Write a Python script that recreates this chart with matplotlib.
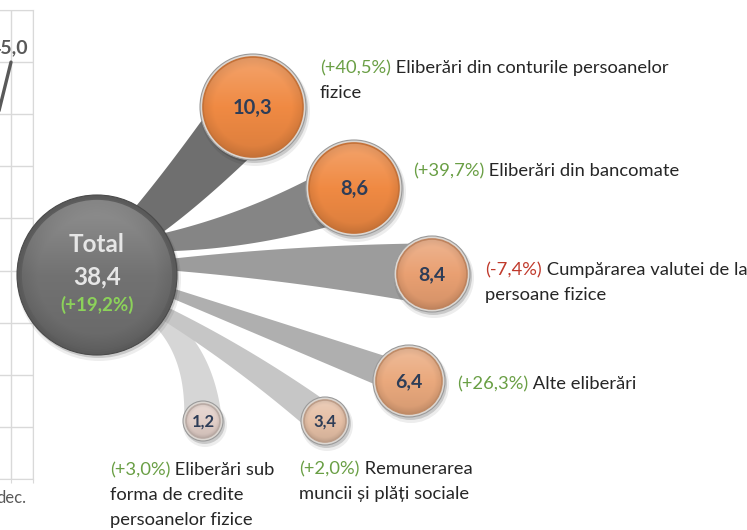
import numpy as np
import matplotlib
matplotlib.use('Agg')
import matplotlib.pyplot as plt
from matplotlib.patches import Circle, Polygon
from matplotlib.colors import to_rgb

plt.rcParams['font.family'] = ['Lato', 'DejaVu Sans']

# ---------------- data ----------------
total_value = 38.4
total_change = 19.2
categories = [
    "Eliberări din conturile persoanelor\nfizice",
    "Eliberări din bancomate",
    "Cumpărarea valutei de la\npersoane fizice",
    "Alte eliberări",
    "Remunerarea\nmuncii și plăți sociale",
    "Eliberări sub\nforma de credite\npersoanelor fizice",
]
values = [10.3, 8.6, 8.4, 6.4, 3.4, 1.2]
changes = [40.5, 39.7, -7.4, 26.3, 2.0, 3.0]

trend_months = ['nov.', 'dec.']
trend_values = [27.9, 45.0]

# ---------------- layout (pixels) ----------------
W, H = 747, 530
total_xy = (97, 275)
total_r = 80
bubble_xy = [(253, 107), (354, 188), (432, 274), (409, 381), (325, 421), (203, 421)]
bubble_r = [53, 48, 38, 36, 24, 20]
bubble_col = ['#F08A43', '#F08A43', '#E9A072', '#EAA97D', '#E6C0A6', '#E2CFC8']
bubble_fs = [14.5, 14.5, 14, 14, 12, 12]
ray_p0 = [(120, 245), (140, 245), (150, 265), (150, 285), (140, 300), (140, 305)]
ray_p1 = [(175, 200), (250, 235), (290, 262), (280, 333), (235, 350), (200, 338)]
ray_w0 = [27, 13, 7.6, 7.4, 10.6, 13]
ray_w1 = [68, 59, 61.6, 33, 33.6, 38]
ray_col = ['#6F6F6F', '#858585', '#9C9C9C', '#AFAFAF', '#C6C6C6', '#D6D6D6']
label_xy = [(320, 68), (413, 171), (485, 270), (457, 384), (299, 469), (110, 470)]
line_gap = 25
label_fs = 13.2

GREEN = '#6A9F45'
RED = '#C0392B'
TXT = '#262626'
NUM = '#2E3D57'


def fmt(v):
    return f"{v:.1f}".replace('.', ',')


def fmt_pct(c):
    return f"({c:+.1f}%)".replace('.', ',')


fig = plt.figure(figsize=(W / 100, H / 100), dpi=100)
fig.patch.set_facecolor('white')

# ---------------- left (cropped) line chart ----------------
ax2 = fig.add_axes([-55 / W, 51 / H, 88 / W, 469 / H], zorder=1)
xpos = np.arange(len(trend_months))
ax2.plot(xpos, trend_values, color='#595959', lw=2.4, solid_capstyle='round', zorder=3)
ax2.set_xlim(-0.5, 1.5)
ax2.set_ylim(5, 50)
ax2.set_yticks(np.arange(5, 51, 5))
ax2.set_yticklabels([])
ax2.tick_params(axis='y', length=0)
ax2.set_xticks([0, 1, 1.5])
ax2.set_xticklabels(trend_months + [''])
ax2.tick_params(axis='x', length=3, color='#D9D9D9', labelsize=12,
                labelcolor='#595959', pad=5)
ax2.grid(True, color='#D9D9D9', lw=1)
for s in ax2.spines.values():
    s.set_color('#D9D9D9')
ax2.spines['left'].set_visible(False)
ax2.annotate(fmt(trend_values[-1]), xy=(1, trend_values[-1]), xytext=(12.5, 10.5),
             textcoords='offset points', ha='right', va='center', fontweight='bold',
             fontsize=14, color='#595959', annotation_clip=False)

# ---------------- infographic ----------------
ax = fig.add_axes([0, 0, 1, 1], zorder=2)
ax.patch.set_alpha(0)
ax.axis('off')


def ray_poly(p0, p1, p2, w0, w1, n=80):
    t = np.linspace(0, 1, n)[:, None]
    P0, P1, P2 = (np.array(p, float) for p in (p0, p1, p2))
    B = (1 - t) ** 2 * P0 + 2 * (1 - t) * t * P1 + t ** 2 * P2
    D = 2 * (1 - t) * (P1 - P0) + 2 * t * (P2 - P1)
    D = D / np.linalg.norm(D, axis=1)[:, None]
    N = np.column_stack([-D[:, 1], D[:, 0]])
    w = (w0 + (w1 - w0) * t) / 2
    return np.vstack([B + N * w, (B - N * w)[::-1]])


def shaded_circle(cx, cy, r, base, z, light=0.22, dark=0.18):
    n = 240
    yy, xx = np.mgrid[-1:1:n * 1j, -1:1:n * 1j]
    rr = np.sqrt(xx ** 2 + yy ** 2)
    b = np.array(to_rgb(base))
    img = np.ones((n, n, 3)) * b
    f = -yy
    lighten = np.clip(f, 0, 1) * light
    img = img + (1 - img) * lighten[..., None]
    darken = np.clip(-f, 0, 1) * dark * 0.5 + np.clip(rr - 0.78, 0, 1) * dark * 2.2
    img = img * (1 - darken[..., None])
    im = ax.imshow(np.clip(img, 0, 1), extent=(cx - r, cx + r, cy + r, cy - r),
                   zorder=z, interpolation='bilinear', aspect='auto')
    clip = Circle((cx, cy), r, transform=ax.transData, facecolor='none', edgecolor='none')
    im.set_clip_path(clip)


def bubble(cx, cy, r, base, z, ring='#DCD7D2', ring_w=3, edge='#9A9A9A'):
    ax.add_patch(Circle((cx + 2, cy + 4), r + 2, color='black', alpha=0.07, zorder=z, lw=0))
    ax.add_patch(Circle((cx + 1.5, cy + 2.5), r + 0.5, color='black', alpha=0.15, zorder=z, lw=0))
    ax.add_patch(Circle((cx, cy), r, facecolor=ring, edgecolor=edge, lw=0.8, zorder=z + 0.1))
    shaded_circle(cx, cy, r - ring_w, base, z + 0.2)
    dk = tuple(np.array(to_rgb(base)) * 0.82)
    ax.add_patch(Circle((cx, cy), r - ring_w, facecolor='none', edgecolor=dk, lw=1.2, zorder=z + 0.3))


# rays (lightest at the back)
for i in reversed(range(len(values))):
    poly = ray_poly(ray_p0[i], ray_p1[i], bubble_xy[i], ray_w0[i], ray_w1[i])
    ax.add_patch(Polygon(poly, closed=True, facecolor=ray_col[i], edgecolor='none', zorder=2))

# total circle
bubble(total_xy[0], total_xy[1], total_r, '#727272', 5, ring='#5A5A5A', ring_w=4, edge='#4A4A4A')
ax.text(total_xy[0], 245, "Total", ha='center', va='center', fontsize=17.5,
        fontweight='bold', color='#E6E6E6', zorder=6)
ax.text(total_xy[0], 277, fmt(total_value), ha='center', va='center', fontsize=17.5,
        fontweight='bold', color='#E6E6E6', zorder=6)
ax.text(total_xy[0], 305, fmt_pct(total_change), ha='center', va='center', fontsize=13.5,
        fontweight='bold', color='#8CD25A', zorder=6)

# bubbles
for i, v in enumerate(values):
    cx, cy = bubble_xy[i]
    bubble(cx, cy, bubble_r[i], bubble_col[i], 7 + i)
    ax.text(cx, cy + 1, fmt(v), ha='center', va='center', fontsize=bubble_fs[i],
            fontweight='bold', color=NUM, zorder=7.5 + i)

# labels
for i, cat in enumerate(categories):
    lx, ly = label_xy[i]
    lines = cat.split('\n')
    col = GREEN if changes[i] >= 0 else RED
    tp = ax.text(lx, ly, fmt_pct(changes[i]), ha='left', va='center', fontsize=label_fs,
                 color=col, zorder=20)
    ax.annotate(' ' + lines[0], xy=(1, 0), xycoords=tp, ha='left', va='bottom',
                fontsize=label_fs, color=TXT, zorder=20)
    for k, ln in enumerate(lines[1:], start=1):
        ax.text(lx, ly + k * line_gap, ln, ha='left', va='center', fontsize=label_fs,
                color=TXT, zorder=20)

ax.set_xlim(0, W)
ax.set_ylim(H, 0)

fig.savefig('out.png', dpi=100, facecolor='white')
